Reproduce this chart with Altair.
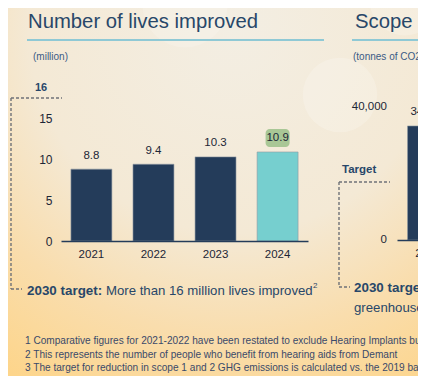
import altair as alt
import pandas as pd

# ---------------- data ----------------
years = ["2021", "2022", "2023", "2024"]
lives = [8.8, 9.4, 10.3, 10.9]
lives_ticks = [0, 5, 10, 15]
lives_target = "16"

scope_years = ["2019"]
scope_values = [34300]
scope_ticks = [0, 40000]

title_left = "Number of lives improved"
title_right = "Scope 1 and 2 emissions"
unit_left = "(million)"
unit_right = "(tonnes of CO2ₑ)"
target_left_bold = "2030 target:"
target_left_text = "More than 16 million lives improved"
target_left_sup = "2"
target_right_label = "Target"
target_right_bold = "2030 target:"
target_right_text = "greenhouse gas emissions"
footnotes = [
    "1 Comparative figures for 2021-2022 have been restated to exclude Hearing Implants but include Oticon Medical",
    "2 This represents the number of people who benefit from hearing aids from Demant",
    "3 The target for reduction in scope 1 and 2 GHG emissions is calculated vs. the 2019 baseline",
]

# ---------------- layout / style ----------------
W, H = 410, 368
M = 8  # page margin


def P(v):
    return v - M


FONT = "Liberation Sans"
NAVY = "#243c5a"
TEAL = "#76cfcf"
INK = "#1c2636"
BLUE = "#284769"
DASH = "#6f7278"
FOOT = "#3a4a6a"

one = pd.DataFrame({"k": [0]})


def text(s, x, y, size, color=BLUE, weight="normal", align="left", baseline="middle"):
    return alt.Chart(one).mark_text(
        text=s, font=FONT, fontSize=size, fontWeight=weight, color=color,
        align=align, baseline=baseline,
    ).encode(x=alt.value(P(x)), y=alt.value(P(y)))


def rule(x1, y1, x2, y2, color, width, dash=None):
    kw = dict(color=color, strokeWidth=width)
    if dash:
        kw["strokeDash"] = dash
    return alt.Chart(one).mark_rule(**kw).encode(
        x=alt.value(P(x1)), y=alt.value(P(y1)), x2=alt.value(P(x2)), y2=alt.value(P(y2))
    )


def bokeh(x, y, r, op):
    return alt.Chart(one).mark_circle(color="white", opacity=op).encode(
        x=alt.value(P(x)), y=alt.value(P(y)), size=alt.value(3.1416 * r * r)
    )


bg = alt.Chart(one).mark_rect(
    fill=alt.RadialGradient(
        gradient="radial",
        stops=[
            alt.GradientStop(color="#f3eee3", offset=0),
            alt.GradientStop(color="#f4e9d5", offset=0.5),
            alt.GradientStop(color="#f9ddad", offset=0.75),
            alt.GradientStop(color="#fdd58b", offset=1),
        ],
        x1=0.55, y1=0.1, r1=0, x2=0.55, y2=0.1, r2=1.0,
    )
).encode(x=alt.value(0), x2=alt.value(W), y=alt.value(0), y2=alt.value(H))

# ---------------- left panel ----------------
df_l = pd.DataFrame({"year": years, "value": lives})
xs = alt.Scale(domain=years, range=[P(61), P(308)], paddingInner=0.34, paddingOuter=0.16)
ys = alt.Scale(domain=[0, 15], range=[P(241), P(118.5)], nice=False)

X_L = alt.X(
    "year:N", scale=xs,
    axis=alt.Axis(orient="bottom", offset=-(H - P(241)), title=None, labelAngle=0, ticks=False,
                  domainColor=NAVY, domainWidth=1.6, labelFont=FONT, labelFontSize=11.5,
                  labelColor=INK, labelPadding=7, grid=False, zindex=1),
)
Y_L = alt.Y(
    "value:Q", scale=ys,
    axis=alt.Axis(orient="left", offset=-P(52), values=lives_ticks, title=None, domain=False,
                  ticks=False, tickSize=0, labelPadding=0, grid=False, labelFont=FONT,
                  labelFontSize=12, labelColor=INK, zindex=1),
)

bars = alt.Chart(df_l).mark_bar(stroke="#8e98a3", strokeWidth=0.6).encode(
    x=X_L, y=Y_L,
    color=alt.condition(alt.datum.year == "2024", alt.value(TEAL), alt.value(NAVY)),
)
box = alt.Chart(df_l).transform_filter(alt.datum.year == "2024").mark_bar(
    width=24, cornerRadius=4, color="#a9c796", yOffset=-5, y2Offset=-23
).encode(x=X_L, y=Y_L, y2="value:Q")
labels = alt.Chart(df_l).mark_text(
    font=FONT, fontSize=11.5, color=INK, baseline="middle", dy=-13.5
).encode(x=X_L, y=Y_L, text=alt.Text("value:Q", format=".1f"))

left = alt.layer(bars, box, labels)

# ---------------- right panel ----------------
df_r = pd.DataFrame({"ryear": scope_years, "rvalue": scope_values})
xs2 = alt.Scale(domain=scope_years, range=[P(397), P(397) + 62], paddingInner=0.34, paddingOuter=0.17)
ys2 = alt.Scale(domain=[0, 40000], range=[P(240), P(107)], nice=False)
X_R = alt.X(
    "ryear:N", scale=xs2,
    axis=alt.Axis(orient="bottom", offset=-(H - P(240)), title=None, labelAngle=0, ticks=False,
                  domainColor=NAVY, domainWidth=1.6, labelFont=FONT, labelFontSize=11.5,
                  labelColor=INK, labelPadding=7, grid=False, zindex=1),
)
Y_R = alt.Y("rvalue:Q", scale=ys2, axis=None)

rbar = alt.Chart(df_r).mark_bar(color=NAVY, stroke="#8e98a3", strokeWidth=0.6).encode(x=X_R, y=Y_R)
rlabel = alt.Chart(df_r).mark_text(
    font=FONT, fontSize=11.5, color=INK, baseline="middle", dy=-13.5
).encode(x=X_R, y=Y_R, text=alt.Text("rvalue:Q", format=","))
rticks = alt.Chart(pd.DataFrame({"rvalue": scope_ticks})).mark_text(
    font=FONT, fontSize=11.5, color=INK, align="right", baseline="middle"
).encode(x=alt.value(P(387)), y=Y_R, text=alt.Text("rvalue:Q", format=","))

right = alt.layer(rbar, rlabel, rticks)

# ---------------- annotations ----------------
notes = [
    bokeh(340, 95, 42, 0.2),
    bokeh(185, 5, 48, 0.16),
    bokeh(405, 0, 40, 0.2),
    text(title_left, 28, 28, 20.3, baseline="alphabetic"),
    text(title_right, 355, 28, 20.3, baseline="alphabetic"),
    rule(27, 40, 324, 40, "#8fc9d5", 2.2),
    rule(352, 40, 440, 40, "#8fc9d5", 2.2),
    text(unit_left, 33, 57, 10, color="#3b5a85"),
    text(unit_right, 353, 57, 10, color="#3b5a85"),
    text(lives_target, 41, 88, 11, weight="bold", align="center"),
    rule(11, 98, 62, 98, DASH, 1.4, [3, 2]),
    rule(11, 98, 11, 289, DASH, 1.4, [3, 2]),
    rule(11, 289, 22, 289, DASH, 1.4, [3, 2]),
    text(target_left_bold, 27, 291, 13.4, weight="bold"),
    text(target_left_text, 106, 291, 13.2),
    text(target_left_sup, 313, 286, 8),
    text(target_right_label, 342, 170, 11.5, weight="bold"),
    rule(339, 182, 390, 182, DASH, 1.4, [3, 2]),
    rule(339, 182, 339, 287, DASH, 1.4, [3, 2]),
    rule(339, 287, 350, 287, DASH, 1.4, [3, 2]),
    text(target_right_bold, 354, 288, 13.4, weight="bold"),
    text(target_right_text, 354, 308, 13.2),
]
for i, f in enumerate(footnotes):
    notes.append(text(f, 25, 341 + 13.5 * i, 10.1, color=FOOT))

chart = alt.layer(bg, *notes[:3], left, right, *notes[3:]).resolve_scale(
    x="independent", y="independent"
).properties(
    width=W, height=H, padding=0, autosize=alt.AutoSizeParams(type="none"),
    background="#f3ecdf",
).configure_view(stroke=None)

chart.save("out.html", embed_options={"renderer": "svg", "actions": False})
